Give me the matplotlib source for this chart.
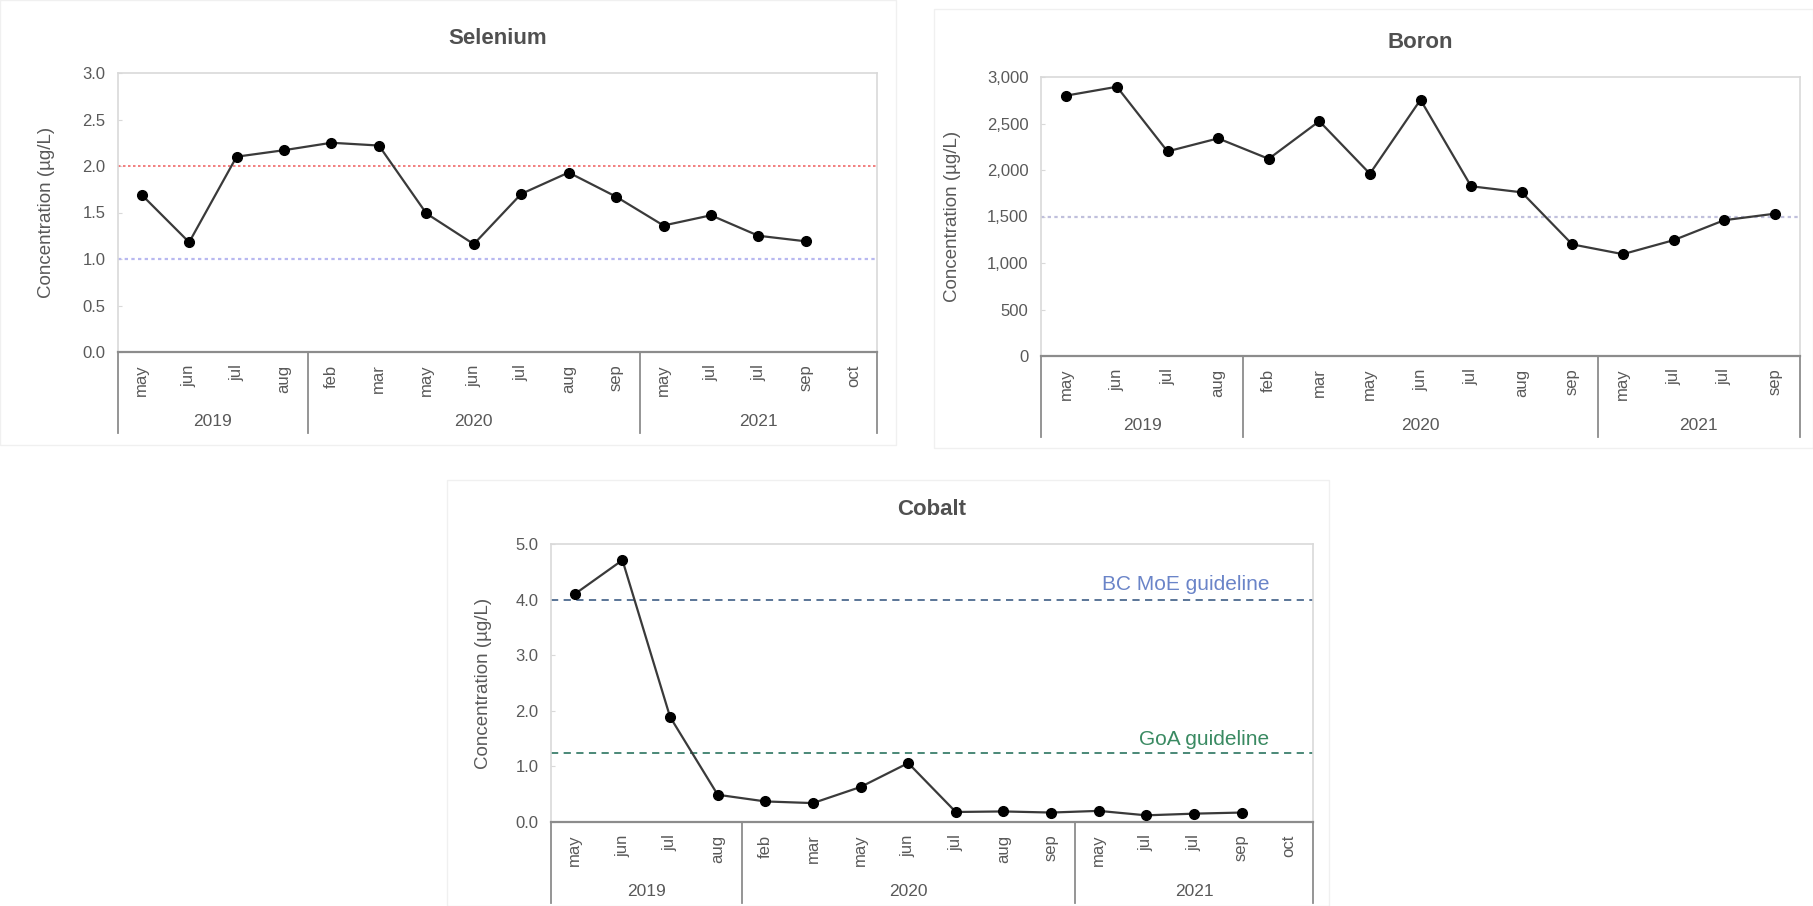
import numpy as np
import matplotlib.pyplot as plt
from matplotlib.patches import Rectangle
from matplotlib.ticker import FuncFormatter

plt.rcParams['font.family'] = ['Liberation Sans', 'DejaVu Sans']

# categories
months_16 = ["may", "jun", "jul", "aug", "feb", "mar", "may", "jun", "jul",
             "aug", "sep", "may", "jul", "jul", "sep", "oct"]
months_15 = months_16[:15]
years = ["2019", "2020", "2021"]
group_sizes_16 = [4, 7, 5]
group_sizes_15 = [4, 7, 4]

# values
selenium = [1.69, 1.18, 2.10, 2.17, 2.25, 2.22, 1.49, 1.16, 1.70, 1.93, 1.67,
            1.36, 1.47, 1.25, 1.19]
boron = [2800, 2895, 2200, 2340, 2120, 2525, 1960, 2755, 1825, 1760, 1200,
         1095, 1245, 1460, 1530]
cobalt = [4.10, 4.71, 1.89, 0.49, 0.37, 0.34, 0.63, 1.06, 0.18, 0.19, 0.17,
          0.20, 0.12, 0.15, 0.17]

W, H = 1813, 906
fig = plt.figure(figsize=(W / 100, H / 100), dpi=100)

GRAY_TXT = "#595959"
AX_DARK = "#8c8c8c"
FRAME = "#d9d9d9"


def px_axes(l, r, t, b):
    return fig.add_axes([l / W, 1 - b / H, (r - l) / W, (b - t) / H])


def panel_border(l, t, r, b):
    fig.patches.append(Rectangle((l / W, 1 - b / H), (r - l) / W, (b - t) / H,
                                 transform=fig.transFigure, fill=False,
                                 edgecolor="#f0f0f0", lw=1))


def style(ax, title, labels, groups, ymax, ystep, fmt, ylab_x):
    n = len(labels)
    ax.set_xlim(-0.5, n - 0.5)
    ax.set_ylim(0, ymax)
    ax.set_yticks(np.arange(0, ymax + ystep / 2, ystep))
    ax.yaxis.set_major_formatter(FuncFormatter(fmt))
    ax.set_xticks(range(n))
    ax.set_xticklabels(labels, rotation=90, color=GRAY_TXT, fontsize=12)
    ax.tick_params(axis="x", length=0, pad=9)
    ax.tick_params(axis="y", direction="in", length=3, color=FRAME,
                   labelcolor=GRAY_TXT, labelsize=12, pad=9)
    for s in ("left", "top", "right"):
        ax.spines[s].set_color(FRAME)
        ax.spines[s].set_linewidth(1.2)
    ax.spines["bottom"].set_color(AX_DARK)
    ax.spines["bottom"].set_linewidth(1.6)
    ax.set_ylabel("Concentration (µg/L)", color=GRAY_TXT, fontsize=13.5)
    ax.yaxis.set_label_coords(ylab_x, 0.5)
    ax.set_title(title, color="#505050", fontsize=16, fontweight="bold", pad=21)
    # group boxes below axis
    tr = ax.get_xaxis_transform()
    edge = -0.5
    bounds = [edge]
    for g in groups:
        edge += g
        bounds.append(edge)
    for xb in bounds:
        ax.plot([xb, xb], [0, -0.29], transform=tr, color=AX_DARK, lw=1.3,
                clip_on=False)
    for i, yr in enumerate(years):
        ax.text((bounds[i] + bounds[i + 1]) / 2, -0.25, yr, transform=tr,
                ha="center", va="center", color=GRAY_TXT, fontsize=12.5)


def series(ax, vals):
    ax.plot(range(len(vals)), vals, color="#3a3a3a", lw=1.6, marker="o",
            ms=7, mfc="black", mec="black", zorder=5)


panel_border(0, 0, 896, 445)
panel_border(934, 9, 1813, 448)
panel_border(447, 480, 1329, 906)

# Selenium
ax1 = px_axes(118, 877, 73, 352)
ax1.axhline(2.0, color="#f06a6a", lw=1.2, ls=(0, (1.5, 1.5)))
ax1.axhline(1.0, color="#b8b8f0", lw=1.6, ls=(0, (1.5, 1.5)))
series(ax1, selenium)
style(ax1, "Selenium", months_16, group_sizes_16, 3.0, 0.5,
      lambda v, p: f"{v:.1f}", -0.083)

# Boron
ax2 = px_axes(1041, 1800, 77, 356)
ax2.axhline(1500, color="#c0c0dc", lw=1.6, ls=(0, (1.5, 1.5)))
series(ax2, boron)
style(ax2, "Boron", months_15, group_sizes_15, 3000, 500,
      lambda v, p: f"{v:,.0f}", -0.105)

# Cobalt
ax3 = px_axes(551, 1313, 544, 822)
ax3.axhline(4.0, color="#4d6a8f", lw=1.3, ls=(0, (4, 3)))
ax3.axhline(1.25, color="#3c7f6c", lw=1.3, ls=(0, (4, 3)))
ax3.text(14.58, 4.18, "BC MoE guideline", color="#6a84c8", fontsize=15,
         ha="right", va="baseline")
ax3.text(14.58, 1.39, "GoA guideline", color="#3a8a62", fontsize=15,
         ha="right", va="baseline")
series(ax3, cobalt)
style(ax3, "Cobalt", months_16, group_sizes_16, 5.0, 1.0,
      lambda v, p: f"{v:.1f}", -0.077)

fig.savefig("out.png", dpi=100, facecolor="white")
